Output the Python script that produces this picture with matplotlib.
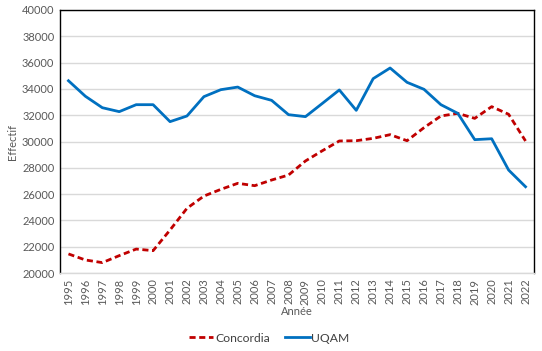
import matplotlib
matplotlib.use("Agg")
import matplotlib.pyplot as plt

years = [str(y) for y in range(1995, 2023)]
concordia = [21450, 20990, 20790, 21320, 21820, 21700, 23270, 24920, 25850, 26360,
             26820, 26640, 27070, 27450, 28520, 29300, 30040, 30060, 30240, 30520,
             30060, 31050, 31940, 32140, 31760, 32650, 32070, 30040]
uqam = [34620, 33440, 32570, 32270, 32800, 32800, 31510, 31940, 33410, 33940,
        34140, 33480, 33130, 32040, 31890, 32900, 33920, 32370, 34780, 35590,
        34500, 33970, 32800, 32140, 30140, 30210, 27830, 26560]
yticks = list(range(20000, 40001, 2000))

plt.rcParams['font.family'] = ['Lato', 'DejaVu Sans']
fig = plt.figure(figsize=(5.42, 3.51), dpi=100)
ax = fig.add_axes([60/542, 1-273/351, 474/542, 263/351])
x = list(range(len(years)))
ax.plot(x, concordia, color='#C00000', lw=2, ls=(0, (2.2, 1.3)), label='Concordia')
ax.plot(x, uqam, color='#0070C0', lw=2, label='UQAM')
ax.set_xlim(-0.5, len(years) - 0.5)
ax.set_ylim(20000, 40000)
ax.set_yticks(yticks)
ax.set_yticklabels([str(v) for v in yticks], fontsize=8, color='#595959')
ax.set_xticks(x)
ax.set_xticklabels(years, rotation=90, fontsize=8, color='#595959')
ax.tick_params(length=0, pad=4)
ax.grid(axis='y', color='#D9D9D9', lw=1)
ax.set_axisbelow(True)
for s in ['left', 'right', 'top']:
    ax.spines[s].set_color('black')
    ax.spines[s].set_linewidth(1)
ax.spines['bottom'].set_color('#D9D9D9')
ax.spines['bottom'].set_linewidth(1)
ax.set_xlabel('Année', fontsize=8, color='#595959', labelpad=1)
ax.set_ylabel('Effectif', fontsize=8, color='#595959', labelpad=3)
fig.legend(loc='center', bbox_to_anchor=(0.497, 1-338/351), ncol=2, frameon=False,
           fontsize=8.7, handlelength=2.0, columnspacing=1.3, handletextpad=0.15,
           labelcolor='#404040')
fig.savefig('out.png', dpi=100)
